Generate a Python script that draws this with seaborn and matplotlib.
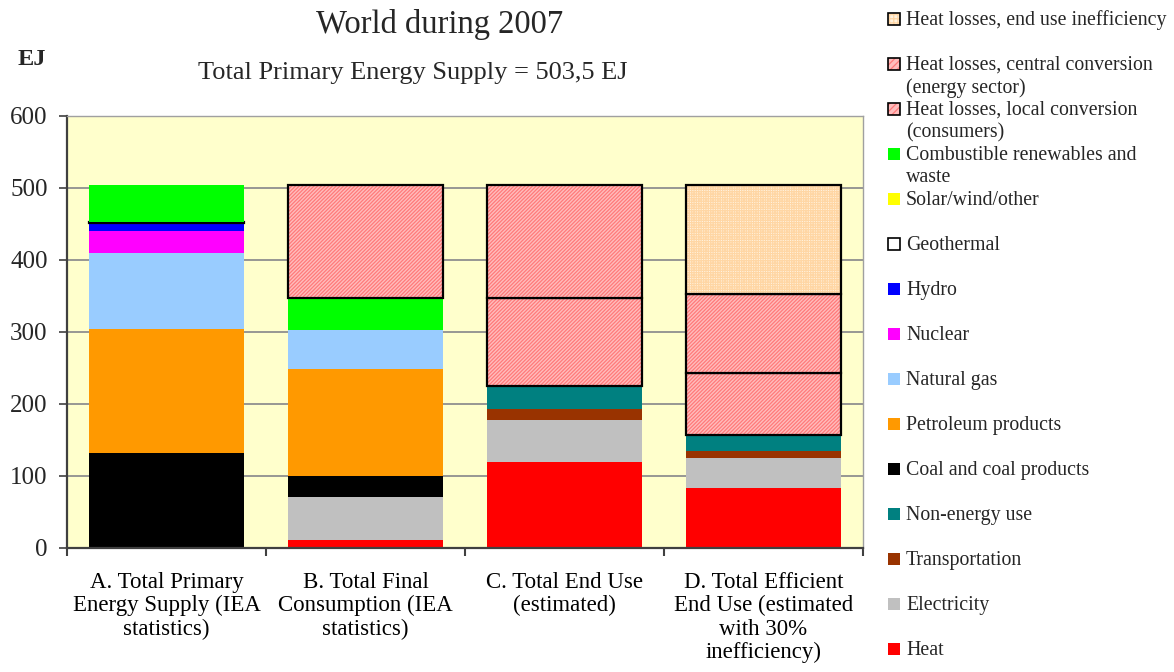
import numpy as np
import pandas as pd
import matplotlib
matplotlib.use("Agg")
import matplotlib.pyplot as plt
from matplotlib.patches import Rectangle
from matplotlib.ticker import FixedLocator
import seaborn as sns

# ---- data (EJ) ----
categories = ["A", "B", "C", "D"]
category_labels = [
    "A. Total Primary\nEnergy Supply (IEA\nstatistics)",
    "B. Total Final\nConsumption (IEA\nstatistics)",
    "C. Total End Use\n(estimated)",
    "D. Total Efficient\nEnd Use (estimated\nwith 30%\ninefficiency)",
]

heat = [0.0, 11.1, 119.4, 83.3]
electricity = [0.0, 59.7, 58.4, 41.7]
transportation = [0.0, 0.0, 15.3, 9.7]
non_energy_use = [0.0, 0.0, 32.4, 22.7]
coal = [132.6, 29.2, 0.0, 0.0]
petroleum = [171.5, 148.6, 0.0, 0.0]
natural_gas = [105.9, 54.2, 0.0, 0.0]
nuclear = [30.6, 0.0, 0.0, 0.0]
hydro = [11.0, 0.0, 0.0, 0.0]
geothermal = [0.8, 0.0, 0.0, 0.0]
solar_wind = [0.5, 0.0, 0.0, 0.0]
combustibles = [50.6, 44.0, 0.0, 0.0]
losses_local = [0.0, 0.0, 121.3, 85.6]
losses_central = [0.0, 156.7, 156.7, 109.3]
losses_end_use = [0.0, 0.0, 0.0, 151.2]

# stacking order, bottom to top
stack = [
    ("Heat", heat),
    ("Electricity", electricity),
    ("Transportation", transportation),
    ("Non-energy use", non_energy_use),
    ("Coal and coal products", coal),
    ("Petroleum products", petroleum),
    ("Natural gas", natural_gas),
    ("Nuclear", nuclear),
    ("Hydro", hydro),
    ("Geothermal", geothermal),
    ("Solar/wind/other", solar_wind),
    ("Combustible renewables and\nwaste", combustibles),
    ("Heat losses, local conversion\n(consumers)", losses_local),
    ("Heat losses, central conversion\n(energy sector)", losses_central),
    ("Heat losses, end use inefficiency", losses_end_use),
]

PINK = dict(face="#ffbdbd", hatch_color="#ff7a7a", hatch="/" * 9,
            legend_hatch="/" * 5, outline=True)
TAN = dict(face="#fff3e0", hatch_color="#ffd6a4", hatch="+" * 7,
           legend_hatch="+" * 4, outline=True)
styles = {
    "Heat": dict(face="#ff0000"),
    "Electricity": dict(face="#c0c0c0"),
    "Transportation": dict(face="#993300"),
    "Non-energy use": dict(face="#008080"),
    "Coal and coal products": dict(face="#000000"),
    "Petroleum products": dict(face="#ff9900"),
    "Natural gas": dict(face="#99ccff"),
    "Nuclear": dict(face="#ff00ff"),
    "Hydro": dict(face="#0000ff"),
    "Geothermal": dict(face="#ffffff", outline=True),
    "Solar/wind/other": dict(face="#ffff00"),
    "Combustible renewables and\nwaste": dict(face="#00ff00"),
    "Heat losses, local conversion\n(consumers)": PINK,
    "Heat losses, central conversion\n(energy sector)": PINK,
    "Heat losses, end use inefficiency": TAN,
}

# ---- style ----
sns.set_theme(style="white")
plt.rcParams["font.family"] = ["Liberation Serif", "DejaVu Serif"]
plt.rcParams["hatch.linewidth"] = 0.9

W, H = 1174, 672
fig = plt.figure(figsize=(W / 100, H / 100), dpi=100)
fig.patch.set_facecolor("white")
ax = fig.add_axes([67 / W, 1 - 548 / H, (863 - 67) / W, (548 - 116) / H])
ax.set_facecolor("#ffffcc")

BAR_W = 0.774
bottom = np.zeros(len(categories))
for name, values in stack:
    vals = np.asarray(values, dtype=float)
    mask = vals > 0
    if not mask.any():
        continue
    df = pd.DataFrame({"cat": np.array(categories)[mask], "val": vals[mask]})
    st = styles[name]
    kws = dict(data=df, x="cat", y="val", order=categories, width=BAR_W,
               saturation=1, errorbar=None, bottom=bottom[mask], ax=ax, zorder=2)
    if "hatch" in st:
        sns.barplot(**kws, color=st["face"], facecolor=st["face"],
                    edgecolor=st["hatch_color"], hatch=st["hatch"], linewidth=0)
    else:
        sns.barplot(**kws, color=st["face"], linewidth=0)
    if st.get("outline"):
        sns.barplot(**kws, color="black", facecolor="none",
                    edgecolor="black", linewidth=1.6)
    bottom = bottom + vals

# ---- axes ----
ax.set_xlim(-0.5, len(categories) - 0.5)
ax.set_ylim(0, 600)
ax.set_yticks(np.arange(0, 601, 100))
ax.set_xlabel("")
ax.set_ylabel("")
ax.yaxis.grid(True, color="#8f8f8f", linewidth=1.3, zorder=0)
ax.xaxis.grid(False)
ax.set_axisbelow(True)

ax.set_xticks(range(len(categories)))
ax.set_xticklabels(category_labels, fontsize=16.5, linespacing=1.15, va="top")
ax.xaxis.set_minor_locator(FixedLocator(np.arange(-0.5, len(categories), 1.0)))
ax.tick_params(axis="x", which="major", length=0, pad=17, colors="black")
ax.tick_params(axis="x", which="minor", length=6, width=1.5, direction="out",
               color="#404040", bottom=True)
ax.tick_params(axis="y", which="major", length=6, width=1.2, direction="out",
               color="#404040", labelsize=18, pad=8, left=True)

for side in ("left", "bottom"):
    ax.spines[side].set_color("#404040")
    ax.spines[side].set_linewidth(1.6)
for side in ("top", "right"):
    ax.spines[side].set_color("#a0a0a0")
    ax.spines[side].set_linewidth(1.0)
    ax.spines[side].set_visible(True)

# ---- titles ----
fig.text(440 / W, 1 - 33 / H, "World during 2007", fontsize=23.5,
         ha="center", va="baseline")
fig.text(413 / W, 1 - 79 / H, "Total Primary Energy Supply = 503,5 EJ",
         fontsize=19, ha="center", va="baseline")
fig.text(18 / W, 1 - 65 / H, "EJ", fontsize=17.5, fontweight="bold",
         ha="left", va="baseline")

# ---- legend (top to bottom = reverse stacking order) ----
BOX = 12
for i, (name, _) in enumerate(stack[::-1]):
    st = styles[name]
    yc = 19 + 45 * i
    xy = (888 / W, 1 - (yc + BOX / 2) / H)
    size = (BOX / W, BOX / H)
    fig.add_artist(Rectangle(xy, *size, transform=fig.transFigure,
                             facecolor=st["face"], linewidth=0))
    if "hatch" in st:
        fig.add_artist(Rectangle(xy, *size, transform=fig.transFigure,
                                 facecolor="none", edgecolor=st["hatch_color"],
                                 linewidth=0, hatch=st["legend_hatch"]))
    if st.get("outline"):
        fig.add_artist(Rectangle(xy, *size, transform=fig.transFigure,
                                 facecolor="none", edgecolor="black", linewidth=1.2))
    for j, line in enumerate(name.split("\n")):
        fig.text(906 / W, 1 - (yc + 22.5 * j + 6) / H, line, fontsize=14.3,
                 ha="left", va="baseline")

fig.savefig("out.png", dpi=100, facecolor="white")
